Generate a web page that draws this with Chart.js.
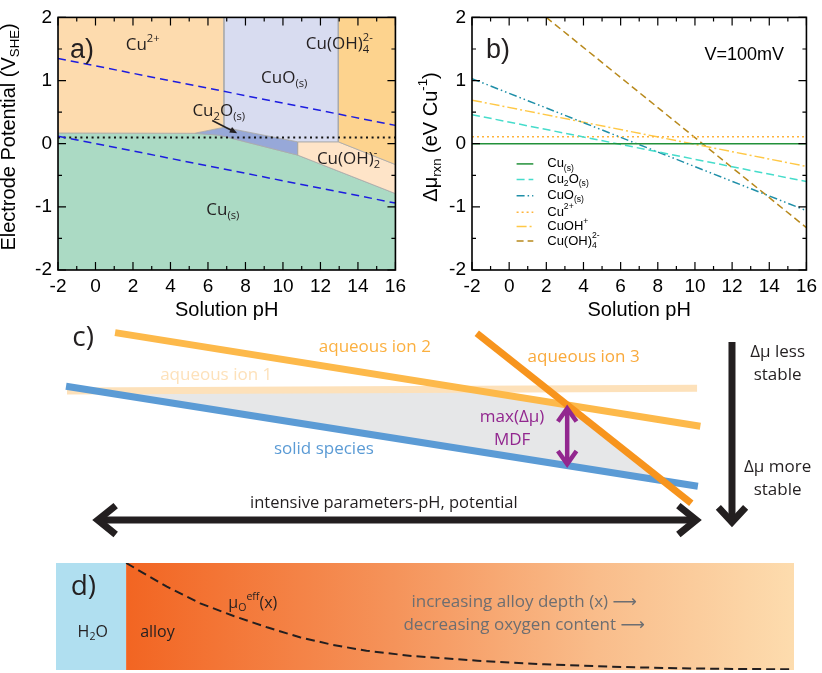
<!DOCTYPE html>
<html>
<head>
<meta charset="utf-8">
<script src="https://cdn.jsdelivr.net/npm/chart.js@4.4.1/dist/chart.umd.min.js"></script>
<style>
body { margin: 0; background: #fff; }
#wrap { position: relative; width: 822px; height: 673px; overflow: hidden; }
canvas { position: absolute; }
</style>
</head>
<body>
<div id="wrap">
  <canvas id="pa" width="411" height="325" style="left:0;top:0"></canvas>
  <canvas id="pb" width="411" height="325" style="left:411px;top:0"></canvas>
  <canvas id="pc" width="822" height="225" style="left:0;top:325px"></canvas>
  <canvas id="pd" width="822" height="123" style="left:0;top:550px"></canvas>
</div>
<script>
// ---- panel a: Pourbaix regions, [pH, V] ----
const regCu2p  = [[-2, 2], [6.85, 2], [6.85, 0.26], [5.28, 0.165], [-2, 0.17]];
const regCuO   = [[6.85, 2], [12.95, 2], [12.95, 0.03], [10.78, 0.03], [6.85, 0.26]];
const regCuOH4 = [[12.95, 2], [16, 2], [16, -0.33], [12.95, 0.03]];
const regCu2O  = [[5.28, 0.165], [6.85, 0.26], [10.78, 0.03], [10.78, -0.18], [6.6, 0.135]];
const regCuOH2 = [[10.78, 0.03], [12.95, 0.03], [16, -0.33], [16, -0.79], [10.78, -0.18]];
const regCu    = [[-2, 0.17], [5.28, 0.165], [6.6, 0.135], [10.78, -0.18], [16, -0.79], [16, -2], [-2, -2]];
const h2oUpper = [[-2, 1.35], [16, 0.29]];
const h2oLower = [[-2, 0.12], [16, -0.94]];
const biasLine = [[-2, 0.1], [16, 0.1]];

// ---- panel b: reaction energies vs pH at V=100mV ----
const bPH      = [-2, 16];
const muCu     = [0, 0];
const muCu2O   = [0.46, -0.60];
const muCuO    = [1.03, -1.06];
const muCu2p   = [0.11, 0.11];
const muCuOHp  = [0.69, -0.36];
const muCuOH4  = [[2, 2.0], [16, -1.33]];

// ---- panel c: schematic lines (arbitrary units) ----
const ion1 = [[8.15, 70.7], [84.8, 71.9]];
const ion2 = [[14.0, 96.6], [85.2, 55.0]];
const ion3 = [[58.0, 96.3], [84.1, 20.8]];
const solid = [[8.03, 72.8], [84.9, 28.3]];
const mdfArea = [[11.6, 70.75], [57.0, 71.6], [69.0, 64.5], [80.7, 30.8]];

// ---- panel d: effective oxygen potential vs depth ----
const depth  = [0, 3.1, 6.1, 11.1, 16.1, 21.1, 26.0, 31.0, 36.0, 42.7, 52.6, 62.6, 72.6, 82.6, 92.5, 100];
const muOeff = [100, 88.8, 77.9, 62.3, 50.5, 39.9, 30.6, 23.4, 18.0, 13.1, 8.7, 5.3, 3.1, 1.6, 0.9, 0.7];

const SANS = '"Liberation Sans", Arial, sans-serif';
const MYR = '"Open Sans", "DejaVu Sans", sans-serif';
Chart.defaults.font.family = SANS;
Chart.defaults.color = '#000';

const pts = arr => arr.map(([x, y]) => ({x, y}));

function region(arr, color) {
  return {data: pts([...arr, arr[0]]), showLine: true, fill: 'shape', backgroundColor: color,
    borderColor: '#a9a9a9', borderWidth: 0.8, pointRadius: 0, order: 10};
}
function line(arr, color, width, dash, order) {
  return {data: pts(arr), showLine: true, fill: false, borderColor: color, borderWidth: width,
    borderDash: dash || [], borderCapStyle: 'butt', pointRadius: 0, order: order || 1};
}

// text with sub/superscripts: kind 0 normal, 'b' sub, 'p' sup, 'P' sup stacked over previous sub
function rich(ctx, parts, x, y, size, family, color, align, rot) {
  const out = [];
  let cx = 0, subStart = 0;
  for (const [t, k] of parts) {
    const fs = k ? size * 0.66 : size;
    ctx.font = fs + 'px ' + family;
    const w = ctx.measureText(t).width;
    const sx = k === 'P' ? subStart : cx;
    const dy = k === 'b' ? size * 0.33 : (k ? -size * 0.4 : 0);
    out.push({t, fs, sx, dy});
    if (k === 'P') cx = Math.max(cx, subStart + w);
    else { subStart = sx; cx = sx + w; }
  }
  ctx.save();
  ctx.translate(x, y);
  if (rot) ctx.rotate(rot);
  const x0 = align === 'center' ? -cx / 2 : align === 'right' ? -cx : 0;
  ctx.fillStyle = color;
  ctx.textBaseline = 'middle';
  ctx.textAlign = 'left';
  for (const p of out) {
    ctx.font = p.fs + 'px ' + family;
    ctx.fillText(p.t, x0 + p.sx, p.dy);
  }
  ctx.restore();
}

// box with inward ticks on all four sides
const frameTicks = {
  id: 'frameTicks',
  afterDatasetsDraw(chart) {
    const {ctx, chartArea: a, scales: {x, y}} = chart;
    const mids = v => v.slice(1).map((q, i) => (q + v[i]) / 2);
    const xt = x.ticks.map(t => t.value), yt = y.ticks.map(t => t.value);
    ctx.save();
    ctx.strokeStyle = '#000';
    ctx.lineWidth = 1.2;
    ctx.beginPath();
    const tx = (v, len) => { const p = x.getPixelForValue(v);
      ctx.moveTo(p, a.bottom); ctx.lineTo(p, a.bottom - len); ctx.moveTo(p, a.top); ctx.lineTo(p, a.top + len); };
    const ty = (v, len) => { const p = y.getPixelForValue(v);
      ctx.moveTo(a.left, p); ctx.lineTo(a.left + len, p); ctx.moveTo(a.right, p); ctx.lineTo(a.right - len, p); };
    xt.forEach(v => tx(v, 8)); mids(xt).forEach(v => tx(v, 4));
    yt.forEach(v => ty(v, 8)); mids(yt).forEach(v => ty(v, 4));
    ctx.stroke();
    ctx.lineWidth = 1.6;
    ctx.strokeRect(a.left, a.top, a.right - a.left, a.bottom - a.top);
    ctx.restore();
  }
};

function plotOpts(yWidth, padRight) {
  return {
    responsive: false, animation: false, events: [],
    layout: {padding: {top: 8, right: padRight, left: 0, bottom: 0}},
    plugins: {legend: {display: false}, tooltip: {enabled: false}},
    scales: {
      x: {type: 'linear', min: -2, max: 16, grid: {display: false, drawTicks: false}, border: {display: false},
          ticks: {stepSize: 2, font: {size: 19}, padding: 5, maxRotation: 0, autoSkip: false},
          afterFit: s => { s.height = 55; }},
      y: {type: 'linear', min: -2, max: 2, grid: {display: false, drawTicks: false}, border: {display: false},
          ticks: {stepSize: 1, font: {size: 19}, padding: 6},
          afterFit: s => { s.width = yWidth; }}
    }
  };
}

// ---- panel a ----
const aLabels = [
  {at: [1.61, 1.557], parts: [['Cu', 0], ['2+', 'p']]},
  {at: [8.83, 1.04], parts: [['CuO', 0], ['(s)', 'b']]},
  {at: [11.22, 1.57], parts: [['Cu(OH)', 0], ['4', 'b'], ['2-', 'P']]},
  {at: [5.17, 0.52], parts: [['Cu', 0], ['2', 'b'], ['O', 0], ['(s)', 'b']]},
  {at: [11.81, -0.244], parts: [['Cu(OH)', 0], ['2', 'b'], ['-', 'P']]},
  {at: [5.91, -1.05], parts: [['Cu', 0], ['(s)', 'b']]}
];
const aArrow = [[6.23, 0.367], [7.56, 0.167]];

new Chart(document.getElementById('pa'), {
  type: 'scatter',
  data: {datasets: [
    region(regCu2p, '#fddbae'),
    region(regCuO, '#d8dcf0'),
    region(regCuOH4, '#fdd38e'),
    region(regCu2O, '#97a8d8'),
    region(regCuOH2, '#fee4c8'),
    region(regCu, '#abdac4'),
    line(h2oUpper, '#1c1ce0', 1.5, [8, 5]),
    line(h2oLower, '#1c1ce0', 1.5, [8, 5]),
    line(biasLine, '#111', 2, [2, 3.6])
  ]},
  options: plotOpts(58, 14),
  plugins: [frameTicks, {
    id: 'aText',
    afterDatasetsDraw(chart) {
      const {ctx, scales: {x, y}} = chart;
      aLabels.forEach(l => rich(ctx, l.parts, x.getPixelForValue(l.at[0]), y.getPixelForValue(l.at[1]), 17, MYR, '#231f20', 'left'));
      const [p0, p1] = aArrow.map(([a, b]) => [x.getPixelForValue(a), y.getPixelForValue(b)]);
      const ang = Math.atan2(p1[1] - p0[1], p1[0] - p0[0]);
      ctx.save();
      ctx.strokeStyle = ctx.fillStyle = '#231f20';
      ctx.lineWidth = 1.6;
      ctx.beginPath(); ctx.moveTo(p0[0], p0[1]);
      ctx.lineTo(p1[0] - 6 * Math.cos(ang), p1[1] - 6 * Math.sin(ang)); ctx.stroke();
      ctx.beginPath(); ctx.moveTo(p1[0], p1[1]);
      ctx.lineTo(p1[0] - 8 * Math.cos(ang - 0.4), p1[1] - 8 * Math.sin(ang - 0.4));
      ctx.lineTo(p1[0] - 8 * Math.cos(ang + 0.4), p1[1] - 8 * Math.sin(ang + 0.4));
      ctx.closePath(); ctx.fill();
      ctx.restore();
      ctx.save();
      ctx.font = '27px ' + SANS; ctx.fillStyle = '#231f20'; ctx.textBaseline = 'middle';
      ctx.fillText('a)', x.getPixelForValue(-1.36), y.getPixelForValue(1.47));
      ctx.restore();
      rich(ctx, [['Solution pH', 0]], (chart.chartArea.left + chart.chartArea.right) / 2, 310, 20, SANS, '#000', 'center');
      rich(ctx, [['Electrode Potential (V', 0], ['SHE', 'b'], [')', 0]], 9, 137, 20, SANS, '#000', 'center', -Math.PI / 2);
    }
  }]
});

// ---- panel b ----
const bSeries = [
  {name: [['Cu', 0], ['(s)', 'b']], vals: muCu, color: '#23913a', dash: []},
  {name: [['Cu', 0], ['2', 'b'], ['O', 0], ['(s)', 'b']], vals: muCu2O, color: '#46dccb', dash: [8, 4]},
  {name: [['CuO', 0], ['(s)', 'b']], vals: muCuO, color: '#1f8fa8', dash: [8, 3, 1.5, 3, 1.5, 3]},
  {name: [['Cu', 0], ['2+', 'p']], vals: muCu2p, color: '#ffb43c', dash: [2, 3]},
  {name: [['CuOH', 0], ['+', 'p']], vals: muCuOHp, color: '#ffc846', dash: [10, 3, 2, 3]},
  {name: [['Cu(OH)', 0], ['4', 'b'], ['2-', 'P']], vals: null, color: '#b8891c', dash: [7, 4]}
];
const legendRows = [-0.32, -0.565, -0.824, -1.084, -1.313, -1.542];

new Chart(document.getElementById('pb'), {
  type: 'scatter',
  data: {datasets: bSeries.map(s => line(s.vals ? bPH.map((p, i) => [p, s.vals[i]]) : muCuOH4, s.color, 1.5, s.dash))},
  options: plotOpts(61, 12),
  plugins: [frameTicks, {
    id: 'bText',
    afterDatasetsDraw(chart) {
      const {ctx, scales: {x, y}} = chart;
      bSeries.forEach((s, i) => {
        const py = y.getPixelForValue(legendRows[i]);
        ctx.save();
        ctx.strokeStyle = s.color; ctx.lineWidth = 1.5; ctx.setLineDash(s.dash);
        ctx.beginPath(); ctx.moveTo(x.getPixelForValue(0.4), py); ctx.lineTo(x.getPixelForValue(1.3), py); ctx.stroke();
        ctx.restore();
        rich(ctx, s.name, x.getPixelForValue(2.05), py, 13, SANS, '#000', 'left');
      });
      rich(ctx, [['V=100mV', 0]], x.getPixelForValue(10.51), y.getPixelForValue(1.40), 18, SANS, '#000', 'left');
      ctx.save();
      ctx.font = '27px ' + SANS; ctx.fillStyle = '#231f20'; ctx.textBaseline = 'middle';
      ctx.fillText('b)', x.getPixelForValue(-1.25), y.getPixelForValue(1.47));
      ctx.restore();
      rich(ctx, [['Solution pH', 0]], (chart.chartArea.left + chart.chartArea.right) / 2, 310, 20, SANS, '#000', 'center');
      rich(ctx, [['\u0394\u03bc', 0], ['rxn', 'b'], [' (eV Cu', 0], ['-1', 'p'], [')', 0]], 20, 137, 20, SANS, '#000', 'center', -Math.PI / 2);
    }
  }]
});

// open chevron arrow heads
function arrow(ctx, p0, p1, color, width, len, ang, both) {
  ctx.save();
  ctx.strokeStyle = color; ctx.lineWidth = width; ctx.lineCap = 'butt'; ctx.lineJoin = 'miter';
  ctx.beginPath(); ctx.moveTo(p0[0], p0[1]); ctx.lineTo(p1[0], p1[1]); ctx.stroke();
  const head = (a, b) => {
    const t = Math.atan2(b[1] - a[1], b[0] - a[0]);
    ctx.beginPath();
    ctx.moveTo(b[0] - len * Math.cos(t - ang), b[1] - len * Math.sin(t - ang));
    ctx.lineTo(b[0], b[1]);
    ctx.lineTo(b[0] - len * Math.cos(t + ang), b[1] - len * Math.sin(t + ang));
    ctx.stroke();
  };
  head(p0, p1);
  if (both) head(p1, p0);
  ctx.restore();
}

const hidden = {display: false};
const cText = [
  {at: [8.8, 94.2], t: [['c)', 0]], size: 28, color: '#231f20', align: 'left'},
  {at: [45.6, 90.2], t: [['aqueous ion 2', 0]], size: 17, color: '#fbb040', align: 'center'},
  {at: [26.3, 77.8], t: [['aqueous ion 1', 0]], size: 17, color: '#fde1ba', align: 'center'},
  {at: [71.0, 85.8], t: [['aqueous ion 3', 0]], size: 17, color: '#f9a93b', align: 'center'},
  {at: [39.4, 44.9], t: [['solid species', 0]], size: 17, color: '#5b9bd5', align: 'center'},
  {at: [62.3, 59.1], t: [['max(\u0394\u03bc)', 0]], size: 17, color: '#92278f', align: 'center'},
  {at: [62.3, 48.9], t: [['MDF', 0]], size: 17, color: '#92278f', align: 'center'},
  {at: [46.7, 20.9], t: [['intensive parameters-pH, potential', 0]], size: 16.5, color: '#231f20', align: 'center'},
  {at: [94.6, 88.0], t: [['\u0394\u03bc less', 0]], size: 17, color: '#231f20', align: 'center'},
  {at: [94.6, 77.8], t: [['stable', 0]], size: 17, color: '#231f20', align: 'center'},
  {at: [94.6, 36.9], t: [['\u0394\u03bc more', 0]], size: 17, color: '#231f20', align: 'center'},
  {at: [94.6, 26.7], t: [['stable', 0]], size: 17, color: '#231f20', align: 'center'}
];

// ---- panel c ----
new Chart(document.getElementById('pc'), {
  type: 'scatter',
  data: {datasets: [
    {data: pts([...mdfArea, mdfArea[0]]), showLine: true, fill: 'shape', backgroundColor: '#e6e7e8',
     borderWidth: 0, pointRadius: 0, order: 10},
    line(ion1, '#fde1ba', 7, [], 5),
    line(ion2, '#fdb94a', 7, [], 4),
    line(solid, '#5b9bd5', 7, [], 3),
    line(ion3, '#f7941d', 7, [], 2)
  ]},
  options: {
    responsive: false, animation: false, events: [],
    layout: {padding: 0},
    plugins: {legend: hidden, tooltip: {enabled: false}},
    scales: {x: {type: 'linear', min: 0, max: 100, display: false}, y: {type: 'linear', min: 0, max: 100, display: false}}
  },
  plugins: [{
    id: 'cText',
    afterDatasetsDraw(chart) {
      const {ctx, scales: {x, y}} = chart;
      const P = ([a, b]) => [x.getPixelForValue(a), y.getPixelForValue(b)];
      cText.forEach(l => { const p = P(l.at); rich(ctx, l.t, p[0], p[1], l.size, MYR, l.color, l.align); });
      arrow(ctx, P([69.0, 62.9]), P([69.0, 38.2]), '#92278f', 4.5, 16, 0.62, true);
      arrow(ctx, P([11.9, 13.3]), P([84.7, 13.3]), '#231f20', 7, 23, 0.68, true);
      arrow(ctx, P([89.05, 92.4]), P([89.05, 12.4]), '#231f20', 7, 20, 0.75, false);
    }
  }]
});

// ---- panel d ----
new Chart(document.getElementById('pd'), {
  type: 'scatter',
  data: {datasets: [
    line(depth.map((d, i) => [d, muOeff[i]]), '#231f20', 2, [9, 5])
  ]},
  options: {
    responsive: false, animation: false, events: [],
    layout: {padding: {left: 56, right: 28, top: 13, bottom: 3}},
    plugins: {legend: hidden, tooltip: {enabled: false}},
    scales: {x: {type: 'linear', min: -10.5, max: 100, display: false}, y: {type: 'linear', min: 0, max: 100, display: false}}
  },
  plugins: [{
    id: 'dBoxes',
    beforeDatasetsDraw(chart) {
      const {ctx, chartArea: a, scales: {x}} = chart;
      const x0 = x.getPixelForValue(0), x1 = x.getPixelForValue(100);
      ctx.save();
      ctx.fillStyle = '#b0dff0';
      ctx.fillRect(a.left, a.top, x0 - a.left, a.bottom - a.top);
      const g = ctx.createLinearGradient(x0, 0, x1, 0);
      g.addColorStop(0, '#f26522');
      g.addColorStop(0.4, '#f5935a');
      g.addColorStop(0.7, '#f9bc8a');
      g.addColorStop(1, '#fddcae');
      ctx.fillStyle = g;
      ctx.fillRect(x0, a.top, x1 - x0, a.bottom - a.top);
      ctx.restore();
    },
    afterDatasetsDraw(chart) {
      const {ctx, scales: {x, y}} = chart;
      const X = v => x.getPixelForValue(v), Y = v => y.getPixelForValue(v);
      rich(ctx, [['d)', 0]], X(-8.3), Y(77.6), 28, MYR, '#231f20', 'left');
      rich(ctx, [['H', 0], ['2', 'b'], ['O', 0]], X(-5.0), Y(35.5), 16, MYR, '#231f20', 'center');
      rich(ctx, [['alloy', 0]], X(2.1), Y(35.5), 16, MYR, '#231f20', 'left');
      rich(ctx, [['\u03bc', 0], ['O', 'b'], ['eff', 'p'], ['(x)', 0]], X(15.3), Y(62.6), 16, MYR, '#231f20', 'left');
      rich(ctx, [['increasing alloy depth (x) \u27f6', 0]], X(59.6), Y(63.8), 17, MYR, '#6d6e71', 'center');
      rich(ctx, [['decreasing oxygen content \u27f6', 0]], X(59.6), Y(42.1), 17, MYR, '#6d6e71', 'center');
    }
  }]
});
</script>
</body>
</html>
